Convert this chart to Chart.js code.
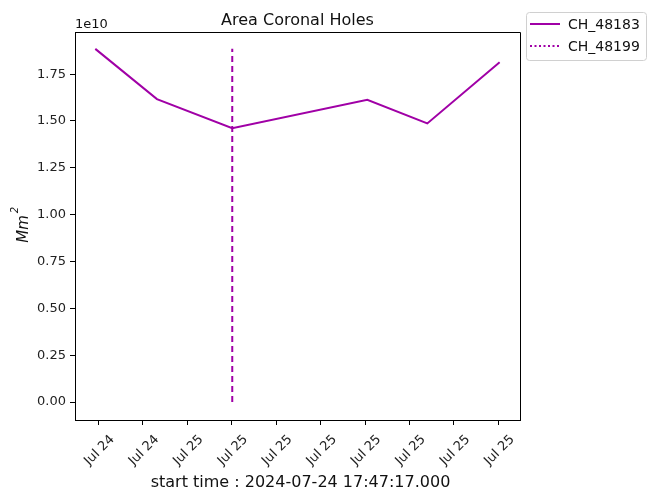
<!DOCTYPE html>
<html>
<head>
<meta charset="utf-8">
<script src="https://cdn.jsdelivr.net/npm/chart.js@4/dist/chart.umd.min.js"></script>
<style>
  html, body { margin: 0; padding: 0; background: #fff; }
  #c { display: block; }
</style>
</head>
<body>
<canvas id="c" width="649" height="492"></canvas>
<script>
// ---- data ----
const startTime = "2024-07-24T17:47:17Z";
const times48183 = ["2024-07-24T17:47:17Z", "2024-07-24T21:57:00Z", "2024-07-25T03:02:00Z",
                    "2024-07-25T12:09:00Z", "2024-07-25T16:12:00Z", "2024-07-25T21:05:00Z"];
const area48183 = [1.885e10, 1.617e10, 1.461e10, 1.613e10, 1.487e10, 1.813e10];
const times48199 = ["2024-07-25T03:02:00Z", "2024-07-25T03:02:00Z"];
const area48199 = [0, 1.885e10];
const xTickTimes = ["2024-07-24T18:00:00Z", "2024-07-24T21:00:00Z", "2024-07-25T00:00:00Z",
                    "2024-07-25T03:00:00Z", "2024-07-25T06:00:00Z", "2024-07-25T09:00:00Z",
                    "2024-07-25T12:00:00Z", "2024-07-25T15:00:00Z", "2024-07-25T18:00:00Z",
                    "2024-07-25T21:00:00Z"];
const xTickLabels = ["Jul 24", "Jul 24", "Jul 25", "Jul 25", "Jul 25", "Jul 25", "Jul 25", "Jul 25", "Jul 25", "Jul 25"];
const yTicks = [0, 0.25e10, 0.5e10, 0.75e10, 1.0e10, 1.25e10, 1.5e10, 1.75e10];
const seriesNames = ["CH_48183", "CH_48199"];
const titleText = "Area Coronal Holes";
const xLabelText = "start time : 2024-07-24 17:47:17.000";

// ---- helpers ----
const t0 = Date.parse(startTime);
const toH = s => (Date.parse(s) - t0) / 3600000;
const lineColor = "#a000a6";
const FONT = "'DejaVu Sans', sans-serif";

const pts1 = times48183.map((t, i) => ({ x: toH(t), y: area48183[i] }));
const pts2 = times48199.map((t, i) => ({ x: toH(t), y: area48199[i] }));
const xTickVals = xTickTimes.map(toH);

const deco = {
  id: 'deco',
  afterDraw(chart) {
    const ctx = chart.ctx, a = chart.chartArea;
    ctx.save();
    // spines top/right
    ctx.strokeStyle = '#000';
    ctx.lineWidth = 1;
    ctx.beginPath();
    ctx.moveTo(Math.round(a.left) + 0.5, Math.round(a.top) + 0.5);
    ctx.lineTo(Math.round(a.right) + 0.5, Math.round(a.top) + 0.5);
    ctx.lineTo(Math.round(a.right) + 0.5, Math.round(a.bottom) + 0.5);
    ctx.stroke();
    // title
    ctx.fillStyle = '#111';
    ctx.textAlign = 'center';
    ctx.textBaseline = 'alphabetic';
    ctx.font = `16px ${FONT}`;
    ctx.fillText(titleText, (a.left + a.right) / 2, 25);
    // offset label
    ctx.textAlign = 'left';
    ctx.font = `13px ${FONT}`;
    ctx.fillText('1e10', a.left, 28);
    // x label
    ctx.textAlign = 'center';
    ctx.font = `16px ${FONT}`;
    ctx.fillText(xLabelText, (a.left + a.right) / 2 + 3, 487);
    // y label (italic math Mm^2)
    ctx.save();
    ctx.translate(28, (a.top + a.bottom) / 2);
    ctx.rotate(-Math.PI / 2);
    ctx.font = `italic 15px ${FONT}`;
    const w = ctx.measureText('Mm').width;
    ctx.textAlign = 'left';
    ctx.fillText('Mm', -w / 2 - 3, 0);
    ctx.font = `italic 10px ${FONT}`;
    ctx.fillText('2', w / 2 - 1, -10);
    ctx.restore();
    // legend
    const lx = 526, ly = 12, lw = 120, lh = 48;
    ctx.fillStyle = 'rgba(255,255,255,0.9)';
    ctx.strokeStyle = '#d0d0d0';
    ctx.lineWidth = 1;
    ctx.beginPath();
    if (ctx.roundRect) ctx.roundRect(lx + 0.5, ly + 0.5, lw, lh, 3); else ctx.rect(lx + 0.5, ly + 0.5, lw, lh);
    ctx.fill();
    ctx.stroke();
    const rows = [{ y: ly + 12, dash: [] }, { y: ly + 34, dash: [2, 2.5] }];
    rows.forEach((r, i) => {
      ctx.strokeStyle = lineColor;
      ctx.lineWidth = 2;
      ctx.setLineDash(r.dash);
      ctx.beginPath();
      ctx.moveTo(lx + 4, r.y);
      ctx.lineTo(lx + 34, r.y);
      ctx.stroke();
      ctx.setLineDash([]);
      ctx.fillStyle = '#111';
      ctx.font = `14px ${FONT}`;
      ctx.textAlign = 'left';
      ctx.textBaseline = 'middle';
      ctx.fillText(seriesNames[i], lx + 42, r.y + 1);
    });
    ctx.restore();
  }
};

new Chart(document.getElementById('c'), {
  type: 'scatter',
  data: {
    datasets: [
      { label: seriesNames[0], data: pts1, showLine: true, borderColor: lineColor, backgroundColor: lineColor,
        borderWidth: 2, pointRadius: 0, tension: 0 },
      { label: seriesNames[1], data: pts2, showLine: true, borderColor: lineColor, backgroundColor: lineColor,
        borderWidth: 2, pointRadius: 0, borderDash: [6, 4] }
    ]
  },
  options: {
    responsive: false,
    animation: false,
    devicePixelRatio: 1,
    layout: { padding: { top: 32, right: 129, left: 0, bottom: 0 } },
    plugins: { legend: { display: false }, title: { display: false }, tooltip: { enabled: false } },
    scales: {
      x: {
        type: 'linear',
        min: -1.37, max: 28.67,
        afterBuildTicks: s => { s.ticks = xTickVals.map(v => ({ value: v })); },
        afterFit: s => { s.height = 72; },
        grid: { drawOnChartArea: false, tickLength: 5, color: '#000', tickWidth: 1 },
        border: { color: '#000', width: 1 },
        ticks: {
          minRotation: 45, maxRotation: 45, autoSkip: false, labelOffset: 14, padding: 7,
          color: '#222', font: { family: FONT, size: 13 },
          callback: (v, i) => xTickLabels[i]
        }
      },
      y: {
        min: -0.096e10, max: 1.975e10,
        afterBuildTicks: s => { s.ticks = yTicks.map(v => ({ value: v })); },
        afterFit: s => { s.width = 75; },
        grid: { drawOnChartArea: false, tickLength: 5, color: '#000', tickWidth: 1 },
        border: { color: '#000', width: 1 },
        ticks: {
          padding: 4, color: '#222', font: { family: FONT, size: 13 },
          callback: v => (v / 1e10).toFixed(2)
        }
      }
    }
  },
  plugins: [deco]
});
</script>
</body>
</html>
